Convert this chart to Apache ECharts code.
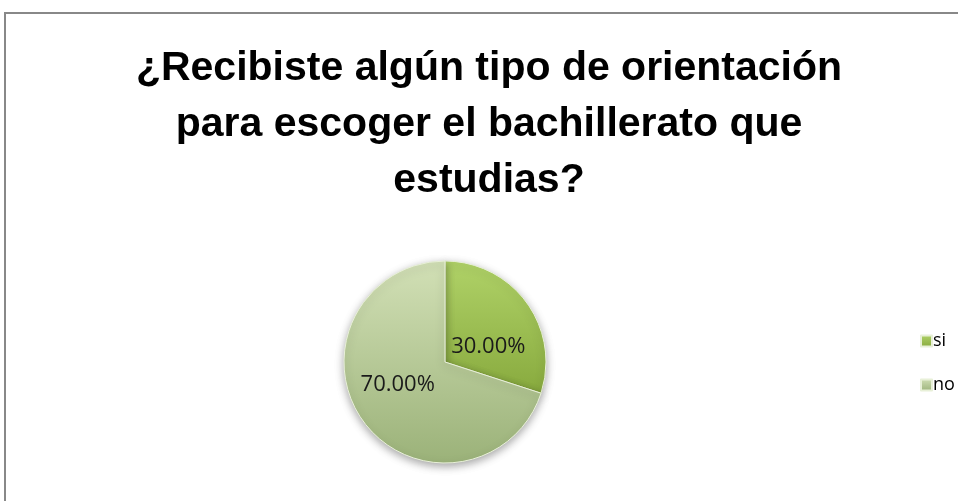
<!DOCTYPE html>
<html><head><meta charset="utf-8">
<script src="https://cdn.jsdelivr.net/npm/echarts@6/dist/echarts.min.js"></script>
<style>html,body{margin:0;padding:0;background:#fff}#c{width:958px;height:501px}</style>
</head><body><div id="c"></div>
<script>
const titleLines = ['¿Recibiste algún tipo de orientación', 'para escoger el bachillerato que', 'estudias?'];
const categories = ['si', 'no'];
const values = [30, 70];
const labels = ['30.00%', '70.00%'];

const colors = [
  new echarts.graphic.LinearGradient(0, 0, 0, 1, [{offset: 0, color: '#b0d268'}, {offset: 1, color: '#88aa3e'}]),
  new echarts.graphic.LinearGradient(0, 0, 0, 1, [{offset: 0, color: '#d2e0b6'}, {offset: 1, color: '#9bb279'}])
];
const labelShift = [[0, 16], [-4, -9]];
const chart = echarts.init(document.getElementById('c'));
chart.setOption({
  animation: false,
  backgroundColor: '#fff',
  graphic: [{
    type: 'rect', shape: {x: 5, y: 13, width: 1000, height: 600},
    style: {fill: 'none', stroke: '#888', lineWidth: 2}, silent: true
  }],
  title: {
    text: titleLines.join('\n'), left: 484, top: 36, textAlign: 'center',
    textStyle: {fontFamily: '"Liberation Sans", sans-serif', fontWeight: 'bold', fontSize: 41, lineHeight: 56, color: '#000'}
  },
  legend: {
    orient: 'vertical', left: 915, top: 327, itemGap: 26, itemWidth: 11, itemHeight: 11,
    icon: 'rect',
    textStyle: {fontFamily: '"Open Sans", "Liberation Sans", sans-serif', fontSize: 18, color: '#000', padding: [0, 0, 0, -4]},
    data: categories
  },
  series: [{
    type: 'pie', center: [445, 362], radius: 101, startAngle: 90, clockwise: true,
    label: {
      show: true, position: 'inside',
      formatter: p => labels[p.dataIndex],
      fontFamily: '"Open Sans", "Liberation Sans", sans-serif', fontSize: 22, color: '#1a1a1a'
    },
    labelLayout: p => ({dx: labelShift[p.dataIndex][0], dy: labelShift[p.dataIndex][1]}),
    itemStyle: {borderColor: '#e8f0d8', borderWidth: 1, shadowBlur: 8, shadowColor: 'rgba(0,0,0,0.35)', shadowOffsetY: 3},
    data: categories.map((c, i) => ({name: c, value: values[i], itemStyle: {color: colors[i]}}))
  }]
});
</script></body></html>
